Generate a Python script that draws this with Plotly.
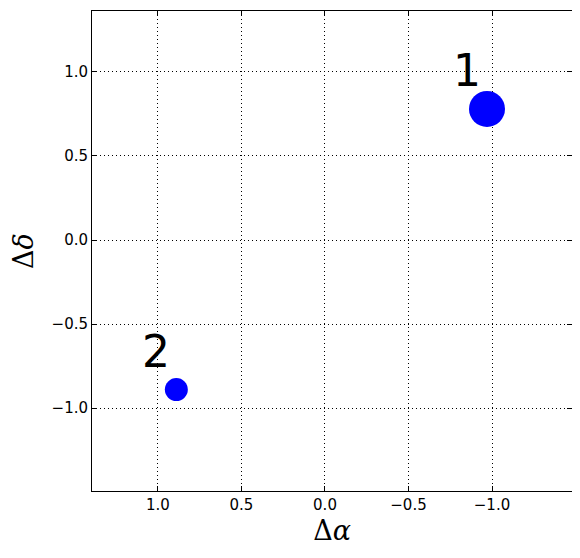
import plotly.graph_objects as go

# Data
labels = ["1", "2"]
d_alpha = [-0.97, 0.89]
d_delta = [0.78, -0.89]
sizes = [36, 23]

fig = go.Figure()
fig.add_trace(go.Scatter(
    x=d_alpha, y=d_delta, mode="markers",
    marker=dict(size=sizes, color="#0000ff", opacity=1, line=dict(width=0)),
    opacity=1,
    showlegend=False, hoverinfo="skip",
))

for lab, xa, yd in zip(labels, d_alpha, d_delta):
    fig.add_annotation(
        x=xa, y=yd, xref="x", yref="y", text=lab, showarrow=False,
        xanchor="center", yanchor="middle", xshift=-20, yshift=38,
        font=dict(family="DejaVu Sans", size=44, color="black"),
    )

axis_common = dict(
    showgrid=True, gridcolor="black", gridwidth=1, griddash="1px,3px",
    zeroline=False, showline=True, linecolor="black", linewidth=1,
    mirror="ticks", ticks="inside", ticklen=5, tickwidth=1, tickcolor="black",
    tickfont=dict(family="DejaVu Sans", size=15, color="black"),
    tickformat=".1f", dtick=0.5, tick0=0, automargin=False,
)

fig.update_layout(
    width=572, height=550,
    margin=dict(l=84, r=8, t=3, b=67, pad=0),
    paper_bgcolor="white", plot_bgcolor="white",
    xaxis=dict(range=[1.395, -1.479], autorange=False,
               title=dict(text="Δ<i>α</i>", font=dict(family="DejaVu Serif", size=27, color="black"), standoff=8),
               **axis_common),
    yaxis=dict(range=[-1.494, 1.363], autorange=False,
               title=dict(text="Δ<i>δ</i>", font=dict(family="DejaVu Serif", size=27, color="black"), standoff=10),
               **axis_common),
)

fig.write_html("out.html")
